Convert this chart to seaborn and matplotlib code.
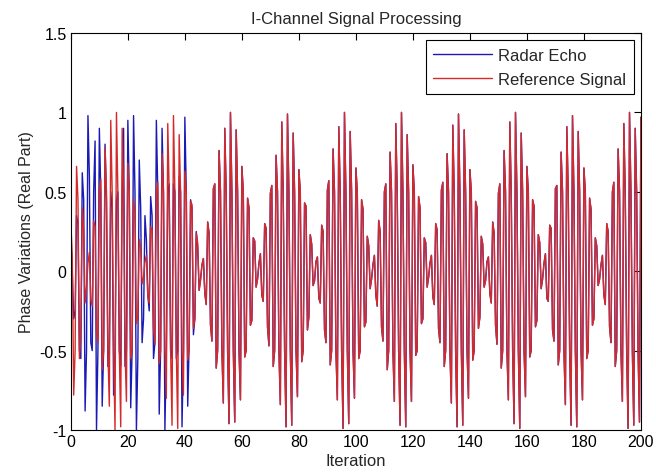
import numpy as np
import pandas as pd
import matplotlib
matplotlib.use("Agg")
import matplotlib.pyplot as plt
import seaborn as sns

# =====================================================
# DATA - values
# =====================================================

# two samples per iteration
iteration = np.arange(0, 200.5, 0.5)

# reference signal, one row = 20 iterations (40 samples)
reference_signal = [
    0.30, 0.10, -0.78, -0.50, 0.66, 0.45, -0.55, -0.40, 0.40, 0.25, -0.20, -0.10,
    0.05, 0.12, -0.18, -0.22, 0.32, 0.28, -0.38, -0.45, 0.50, 0.58, -0.62, -0.50,
    0.78, 0.50, -0.50, -0.85, 0.95, 0.50, -0.50, -1.00, 1.00, 0.50, -0.50, -0.98,
    0.90, 0.50, -0.50, -0.82,
    0.68, 0.50, -0.55, -0.48, 0.45, 0.38, -0.33, -0.28, 0.20, 0.15, -0.08, -0.04,
    0.06, 0.10, -0.16, -0.20, 0.28, 0.26, -0.36, -0.46, 0.50, 0.56, -0.58, -0.50,
    0.74, 0.50, -0.50, -0.80, 0.93, 0.50, -0.50, -0.97, 0.98, 0.50, -0.50, -0.99,
    0.86, 0.50, -0.50, -0.78,
    0.63, 0.50, -0.56, -0.50, 0.44, 0.42, -0.36, -0.30, 0.24, 0.18, -0.12, -0.06,
    0.04, 0.08, -0.14, -0.21, 0.31, 0.24, -0.34, -0.44, 0.52, 0.55, -0.61, -0.50,
    0.76, 0.50, -0.50, -0.83, 0.90, 0.50, -0.50, -0.96, 1.00, 0.50, -0.50, -0.95,
    0.89, 0.50, -0.50, -0.81,
    0.66, 0.50, -0.54, -0.50, 0.46, 0.40, -0.34, -0.31, 0.21, 0.19, -0.10, -0.05,
    0.05, 0.11, -0.15, -0.19, 0.30, 0.27, -0.35, -0.47, 0.49, 0.54, -0.60, -0.50,
    0.73, 0.50, -0.50, -0.84, 0.94, 0.50, -0.50, -0.98, 0.99, 0.50, -0.50, -0.97,
    0.87, 0.50, -0.50, -0.79,
    0.64, 0.50, -0.57, -0.50, 0.43, 0.41, -0.37, -0.29, 0.23, 0.17, -0.09, -0.06,
    0.06, 0.09, -0.17, -0.20, 0.29, 0.25, -0.37, -0.45, 0.51, 0.57, -0.59, -0.50,
    0.77, 0.50, -0.50, -0.81, 0.91, 0.50, -0.50, -0.99, 1.00, 0.50, -0.50, -0.96,
    0.88, 0.50, -0.50, -0.80,
    0.65, 0.50, -0.55, -0.50, 0.45, 0.39, -0.35, -0.32, 0.22, 0.16, -0.11, -0.05,
    0.04, 0.10, -0.15, -0.22, 0.32, 0.25, -0.35, -0.44, 0.50, 0.55, -0.62, -0.50,
    0.75, 0.50, -0.50, -0.82, 0.93, 0.50, -0.50, -0.97, 1.00, 0.50, -0.50, -0.98,
    0.86, 0.50, -0.50, -0.82,
    0.67, 0.50, -0.53, -0.50, 0.47, 0.40, -0.33, -0.30, 0.21, 0.18, -0.10, -0.04,
    0.05, 0.10, -0.16, -0.21, 0.30, 0.26, -0.36, -0.45, 0.51, 0.56, -0.60, -0.50,
    0.74, 0.50, -0.50, -0.83, 0.92, 0.50, -0.50, -0.98, 0.99, 0.50, -0.50, -0.97,
    0.89, 0.50, -0.50, -0.80,
    0.64, 0.50, -0.56, -0.50, 0.44, 0.40, -0.36, -0.29, 0.22, 0.17, -0.10, -0.06,
    0.06, 0.09, -0.14, -0.20, 0.31, 0.24, -0.34, -0.46, 0.49, 0.55, -0.61, -0.50,
    0.76, 0.50, -0.50, -0.81, 0.94, 0.50, -0.50, -0.96, 1.00, 0.50, -0.50, -0.99,
    0.87, 0.50, -0.50, -0.79,
    0.66, 0.50, -0.54, -0.50, 0.45, 0.41, -0.35, -0.31, 0.23, 0.18, -0.11, -0.05,
    0.05, 0.11, -0.17, -0.19, 0.29, 0.27, -0.37, -0.44, 0.52, 0.54, -0.59, -0.50,
    0.75, 0.50, -0.50, -0.84, 0.91, 0.50, -0.50, -0.97, 0.98, 0.50, -0.50, -0.98,
    0.88, 0.50, -0.50, -0.81,
    0.65, 0.50, -0.55, -0.50, 0.46, 0.39, -0.34, -0.30, 0.21, 0.16, -0.09, -0.05,
    0.04, 0.10, -0.15, -0.21, 0.30, 0.25, -0.35, -0.45, 0.50, 0.56, -0.60, -0.50,
    0.77, 0.50, -0.50, -0.82, 0.93, 0.50, -0.50, -0.99, 1.00, 0.50, -0.50, -0.97,
    0.90, 0.50, -0.50, -0.95,
    0.97,
]

# radar echo differs only during the first 46 iterations,
# afterwards it lies under the reference signal
echo_start = [
    0.05, 0.00, -0.30, -0.25, 0.35, 0.30, -0.50, -0.55, 0.62, 0.45,
    -0.88, -0.50, 0.98, 0.60, -0.45, -0.50, 0.50, 0.82, -1.00, -0.50,
    0.90, 0.50, -0.85, -0.50, 0.80, 0.45, -0.60, -0.50, 0.50, 0.40,
    -0.78, -0.50, 0.45, 0.50, -0.50, -0.60, 0.50, 0.90, -0.60, -0.50,
    0.95, 0.50, -0.86, -0.50, 0.98, 0.50, -1.00, -0.55, 0.70, 0.40,
    -0.45, -0.30, 0.35, 0.20, -0.15, -0.25, 0.47, 0.35, -0.55, -0.45,
    0.95, 0.50, -0.90, -0.50, 0.90, 0.50, -1.00, -0.50, 0.50, 0.55,
    -0.50, -0.55, 0.55, 0.50, -0.55, -0.50, 0.60, 0.50, -0.98, -0.50,
    0.97, 0.50, -0.85, -0.45, 0.45, 0.40, -0.40, -0.30, 0.25, 0.15,
    -0.12, -0.05,
]
radar_echo = echo_start + reference_signal[len(echo_start):]

x_ticks = [0, 20, 40, 60, 80, 100, 120, 140, 160, 180, 200]
y_ticks = [-1, -0.5, 0, 0.5, 1, 1.5]
y_tick_labels = ["-1", "-0.5", "0", "0.5", "1", "1.5"]

# =====================================================
# PLOT
# =====================================================

sns.set_style("white")
plt.rcParams["font.family"] = ["Liberation Sans", "DejaVu Sans"]
plt.rcParams["axes.unicode_minus"] = False

df = pd.DataFrame({
    "Iteration": iteration,
    "Radar Echo": radar_echo,
    "Reference Signal": reference_signal,
})

fig = plt.figure(figsize=(6.56, 4.77), dpi=100)
ax = fig.add_axes([0.108, 0.0964, 0.869, 0.8323])

sns.lineplot(data=df, x="Iteration", y="Radar Echo", color="#1a1ab4",
             linewidth=1.0, sort=False, estimator=None, label="Radar Echo", ax=ax)
sns.lineplot(data=df, x="Iteration", y="Reference Signal", color="#d42a2a",
             linewidth=1.0, sort=False, estimator=None, label="Reference Signal", ax=ax)

ax.set_xlim(0, 200)
ax.set_ylim(-1, 1.5)
ax.set_xticks(x_ticks)
ax.set_yticks(y_ticks)
ax.set_yticklabels(y_tick_labels)
ax.tick_params(direction="in", top=True, right=True, length=5, width=0.8,
               labelsize=11.5, colors="black", pad=3)
for spine in ax.spines.values():
    spine.set_color("black")
    spine.set_linewidth(0.8)

ax.set_title("I-Channel Signal Processing", fontsize=12, pad=7)
ax.set_xlabel("Iteration", fontsize=12, labelpad=3)
ax.set_ylabel("Phase Variations (Real Part)", fontsize=11.5, labelpad=4)

leg = ax.legend(loc="upper right", fontsize=12, frameon=True, fancybox=False,
                edgecolor="black", framealpha=1, borderaxespad=0.42,
                handlelength=3.5, handletextpad=0.4, borderpad=0.45,
                labelspacing=0.55)
leg.get_frame().set_linewidth(0.8)

plt.savefig("out.png", dpi=100)
